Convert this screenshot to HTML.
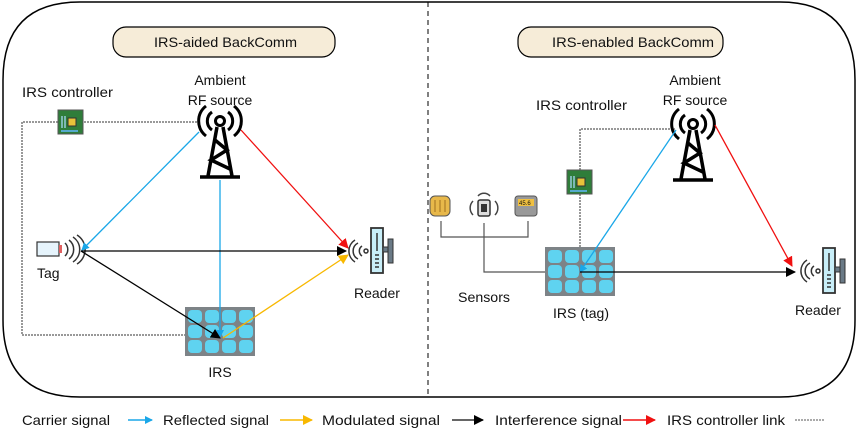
<!DOCTYPE html>
<html><head><meta charset="utf-8"><style>
html,body{margin:0;padding:0;background:#fff;}
svg{display:block;}
text{font-family:"Liberation Sans",sans-serif;font-size:14px;fill:#111;}
</style></head><body>
<svg width="858" height="431" viewBox="0 0 858 431" xmlns="http://www.w3.org/2000/svg">
<defs>
<marker id="ab" markerWidth="8" markerHeight="8" refX="7" refY="4" orient="auto" markerUnits="userSpaceOnUse"><path d="M0,0 L8,4 L0,8 z" fill="#1aa7e8"/></marker>
<marker id="ar" markerWidth="10" markerHeight="10" refX="9" refY="5" orient="auto" markerUnits="userSpaceOnUse"><path d="M0,0 L10,5 L0,10 z" fill="#f01010"/></marker>
<marker id="ak" markerWidth="10" markerHeight="10" refX="9" refY="5" orient="auto" markerUnits="userSpaceOnUse"><path d="M0,0 L10,5 L0,10 z" fill="#000"/></marker>
<marker id="ay" markerWidth="10" markerHeight="10" refX="9" refY="5" orient="auto" markerUnits="userSpaceOnUse"><path d="M0,0 L10,5 L0,10 z" fill="#f8b800"/></marker>
<g id="tower">
<path d="M-8,-13 A11,11 0 0 0 -8,5 M8,-13 A11,11 0 0 1 8,5" fill="none" stroke="#000" stroke-width="3"/>
<path d="M-14,-19 A19,19 0 0 0 -14,11 M14,-19 A19,19 0 0 1 14,11" fill="none" stroke="#000" stroke-width="3"/>
<circle cx="0" cy="-4" r="4.5" fill="none" stroke="#000" stroke-width="3"/>
<path d="M-3,2 L-12,51 M3,2 L12,51 M-20,52 L20,52 M-5,15 L7,25 L-9,35 L10,44" fill="none" stroke="#000" stroke-width="3.5"/>
</g>
<g id="irs">
<rect x="0" y="0" width="70" height="49" fill="#7d8387"/>
<g fill="#5fd3f0">
<rect x="3" y="3" width="14" height="13" rx="4"/><rect x="20" y="3" width="14" height="13" rx="4"/><rect x="37" y="3" width="14" height="13" rx="4"/><rect x="54" y="3" width="14" height="13" rx="4"/>
<rect x="3" y="18" width="14" height="13" rx="4"/><rect x="20" y="18" width="14" height="13" rx="4"/><rect x="37" y="18" width="14" height="13" rx="4"/><rect x="54" y="18" width="14" height="13" rx="4"/>
<rect x="3" y="33" width="14" height="13" rx="4"/><rect x="20" y="33" width="14" height="13" rx="4"/><rect x="37" y="33" width="14" height="13" rx="4"/><rect x="54" y="33" width="14" height="13" rx="4"/>
</g>
</g>
<g id="chip">
<rect x="0" y="0" width="25" height="24" fill="#2f7d3a" stroke="#555" stroke-width="1"/>
<rect x="10" y="8" width="8" height="8" fill="#e8c23a" stroke="#333" stroke-width="1"/>
<path d="M4,6 V18 M7,6 V18" stroke="#9cd" stroke-width="1.5"/>
<path d="M3,21 H20" stroke="#5ac" stroke-width="2"/>
</g>
<g id="reader">
<path d="M-10,-8 A9,9 0 0 0 -10,8 M-6,-5 A6,6 0 0 0 -6,5 M-13,-11 A13,13 0 0 0 -13,11" fill="none" stroke="#333" stroke-width="1.5"/>
<circle cx="-2" cy="0" r="2" fill="none" stroke="#333" stroke-width="1.5"/>
<rect x="3" y="-23" width="12" height="45" fill="#c8eef8" stroke="#333" stroke-width="1.8"/>
<path d="M9,-18 V0 M7,4 H11 M7,8 H11 M7,12 H11 M7,16 H11" stroke="#333" stroke-width="1.5"/>
<rect x="15" y="-4" width="7" height="5" fill="#6a7a86" stroke="#333"/>
<rect x="20" y="-12" width="5" height="24" fill="#6a7a86" stroke="#333"/>
</g>
</defs>

<path d="M80,397 Q3,397 3,320 L3,80 Q3,2 80,2 L780,2 Q855,2 855,80 L855,320 Q855,397 780,397 Z" fill="none" stroke="#000" stroke-width="1.5"/>
<line x1="428" y1="2" x2="428" y2="397" stroke="#000" stroke-width="1" stroke-dasharray="5,4"/>

<rect x="113" y="27" width="222" height="30" rx="13" fill="#f6ecd8" stroke="#000" stroke-width="1.2"/>
<text x="154" y="47" textLength="143" lengthAdjust="spacingAndGlyphs">IRS-aided BackComm</text>
<rect x="518" y="27" width="205" height="30" rx="13" fill="#f6ecd8" stroke="#000" stroke-width="1.2"/>
<text x="552" y="47" textLength="162" lengthAdjust="spacingAndGlyphs">IRS-enabled BackComm</text>

<text x="22" y="97" textLength="91" lengthAdjust="spacingAndGlyphs">IRS controller</text>
<text x="220" y="85" text-anchor="middle">Ambient</text>
<text x="220" y="105" text-anchor="middle">RF source</text>
<path d="M84,122 L199,122 M58,122 L22,122 L22,335 L185,335" fill="none" stroke="#333" stroke-width="1" stroke-dasharray="2,1"/>
<use href="#chip" x="58" y="110"/>
<use href="#tower" x="220" y="125"/>
<use href="#irs" x="185" y="307"/>
<rect x="37" y="242" width="22" height="14" fill="#e6f4fc" stroke="#333" stroke-width="1.2"/>
<rect x="59" y="245" width="3" height="8" fill="#e06060"/>
<path d="M65,243 A9,9 0 0 1 65,256 M69,240 A12,12 0 0 1 69,259 M73,237 A15,15 0 0 1 73,262 M77,235 A17,17 0 0 1 77,264" fill="none" stroke="#333" stroke-width="1.5"/>
<text x="37" y="278">Tag</text>
<use href="#reader" x="368" y="251"/>
<text x="354" y="298">Reader</text>
<text x="220" y="377" text-anchor="middle">IRS</text>

<line x1="199" y1="132" x2="82" y2="250" stroke="#1aa7e8" stroke-width="1.3" marker-end="url(#ab)"/>
<line x1="220" y1="180" x2="220" y2="337" stroke="#1aa7e8" stroke-width="1.3" marker-end="url(#ab)"/>
<line x1="241" y1="130" x2="348" y2="248" stroke="#f01010" stroke-width="1.3" marker-end="url(#ar)"/>
<line x1="81" y1="251" x2="346" y2="251" stroke="#000" stroke-width="1.3" marker-end="url(#ak)"/>
<line x1="81" y1="251" x2="220" y2="338" stroke="#000" stroke-width="1.3" marker-end="url(#ak)"/>
<line x1="223" y1="338" x2="348" y2="255" stroke="#f8b800" stroke-width="1.3" marker-end="url(#ay)"/>

<text x="536" y="110" textLength="91" lengthAdjust="spacingAndGlyphs">IRS controller</text>
<text x="695" y="85" text-anchor="middle">Ambient</text>
<text x="695" y="105" text-anchor="middle">RF source</text>
<path d="M580,170 L580,129 L675,129 M580,194 L580,248" fill="none" stroke="#333" stroke-width="1" stroke-dasharray="2,1"/>
<use href="#chip" x="567" y="170"/>
<use href="#tower" x="693" y="128"/>
<rect x="430" y="196" width="20" height="20" rx="5" fill="#e8b84a" stroke="#555"/>
<path d="M435,200 V212 M440,200 V212 M445,200 V212" stroke="#a07020" stroke-width="1"/>
<rect x="478" y="200" width="12" height="16" rx="2" fill="#ddd" stroke="#333" stroke-width="1.5"/>
<rect x="481" y="204" width="6" height="8" fill="#333"/>
<path d="M473,201 A10,10 0 0 0 473,215 M495,201 A10,10 0 0 1 495,215 M478,196 A8,8 0 0 1 490,196" fill="none" stroke="#444" stroke-width="1.5"/>
<rect x="515" y="196" width="22" height="20" rx="3" fill="#999" stroke="#555"/>
<rect x="518" y="199" width="16" height="7" fill="#f0c040"/>
<text x="519" y="205" style="font-size:6px">45.6</text>
<path d="M441,221 V237 H528 V221 M484,223 V272 H545" fill="none" stroke="#555" stroke-width="1.2"/>
<use href="#irs" x="545" y="247"/>
<text x="458" y="302" textLength="52" lengthAdjust="spacingAndGlyphs">Sensors</text>
<text x="553" y="318" textLength="56" lengthAdjust="spacingAndGlyphs">IRS (tag)</text>
<use href="#reader" x="820" y="271"/>
<text x="795" y="315">Reader</text>

<line x1="676" y1="130" x2="580" y2="272" stroke="#1aa7e8" stroke-width="1.3" marker-end="url(#ab)"/>
<line x1="715" y1="125" x2="792" y2="266" stroke="#f01010" stroke-width="1.3" marker-end="url(#ar)"/>
<line x1="580" y1="272" x2="795" y2="272" stroke="#000" stroke-width="1.3" marker-end="url(#ak)"/>

<text x="22" y="425" textLength="88" lengthAdjust="spacingAndGlyphs">Carrier signal</text>
<line x1="128" y1="420" x2="152" y2="420" stroke="#1aa7e8" stroke-width="1.5" marker-end="url(#ab)"/>
<text x="163" y="425" textLength="106" lengthAdjust="spacingAndGlyphs">Reflected signal</text>
<line x1="280" y1="420" x2="312" y2="420" stroke="#f8b800" stroke-width="1.5" marker-end="url(#ay)"/>
<text x="322" y="425" textLength="118" lengthAdjust="spacingAndGlyphs">Modulated signal</text>
<line x1="452" y1="420" x2="483" y2="420" stroke="#333" stroke-width="1.5" marker-end="url(#ak)"/>
<text x="495" y="425" textLength="127" lengthAdjust="spacingAndGlyphs">Interference signal</text>
<line x1="623" y1="420" x2="655" y2="420" stroke="#f01010" stroke-width="1.5" marker-end="url(#ar)"/>
<text x="667" y="425" textLength="118" lengthAdjust="spacingAndGlyphs">IRS controller link</text>
<line x1="795" y1="420" x2="825" y2="420" stroke="#555" stroke-width="1" stroke-dasharray="2,1"/>
</svg>
</body></html>
